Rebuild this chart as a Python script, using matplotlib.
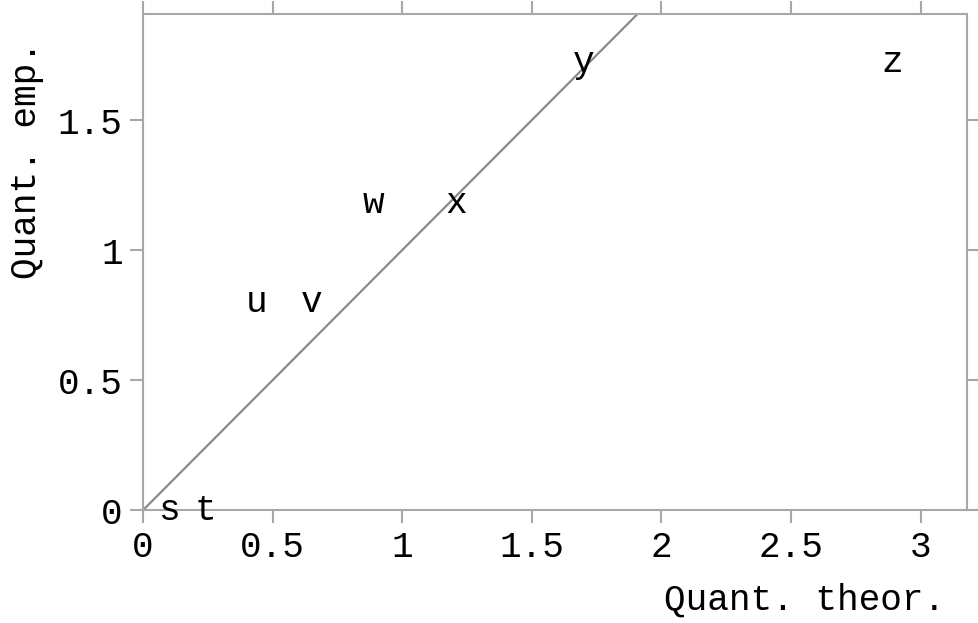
import matplotlib
matplotlib.use("Agg")
import matplotlib.pyplot as plt

# quantile pairs, labelled by letter
labels = ["s", "t", "u", "v", "w", "x", "y", "z"]
q_theor = [0.10, 0.24, 0.44, 0.65, 0.89, 1.21, 1.70, 2.89]
q_emp = [0.0, 0.0, 0.80, 0.80, 1.18, 1.18, 1.72, 1.72]

x_ticks = [0, 0.5, 1, 1.5, 2, 2.5, 3]
x_ticklabels = ["0", "0.5", "1", "1.5", "2", "2.5", "3"]
y_ticks = [0, 0.5, 1, 1.5]
y_ticklabels = ["0", "0.5", "1", "1.5"]

ref_line = [0, 2]

mono = "Liberation Mono"
fs = 26
grey = "#a8a8a8"

fig = plt.figure(figsize=(9.79, 6.23), dpi=100)
ax = fig.add_axes([0.146, 0.181, 0.842, 0.7965])

# bisector
ax.plot(ref_line, ref_line, color="#8a8a8a", lw=1.6, zorder=1)

for lab, xv, yv in zip(labels, q_theor, q_emp):
    ax.text(xv, yv, lab, family=mono, fontsize=fs, ha="center", va="center",
            color="black", zorder=3)

ax.set_xlim(0, 3.18)
ax.set_ylim(0, 1.908)

ax.set_xticks(x_ticks)
ax.set_xticklabels(x_ticklabels, family=mono, fontsize=fs)
ax.set_yticks(y_ticks)
ax.set_yticklabels(y_ticklabels, family=mono, fontsize=fs)

ax.tick_params(direction="out", length=9.5, width=1.5, color=grey,
               top=True, right=True, pad=5)
for sp in ax.spines.values():
    sp.set_color(grey)
    sp.set_linewidth(1.5)

fig.text(945 / 979, 1 - 600 / 623, "Quant. theor.", family=mono, fontsize=fs,
         ha="right", va="center")
fig.text(27 / 979, 1 - 160 / 623, "Quant. emp.", family=mono, fontsize=fs,
         ha="center", va="center", rotation=90)

fig.savefig("out.png", dpi=100)
